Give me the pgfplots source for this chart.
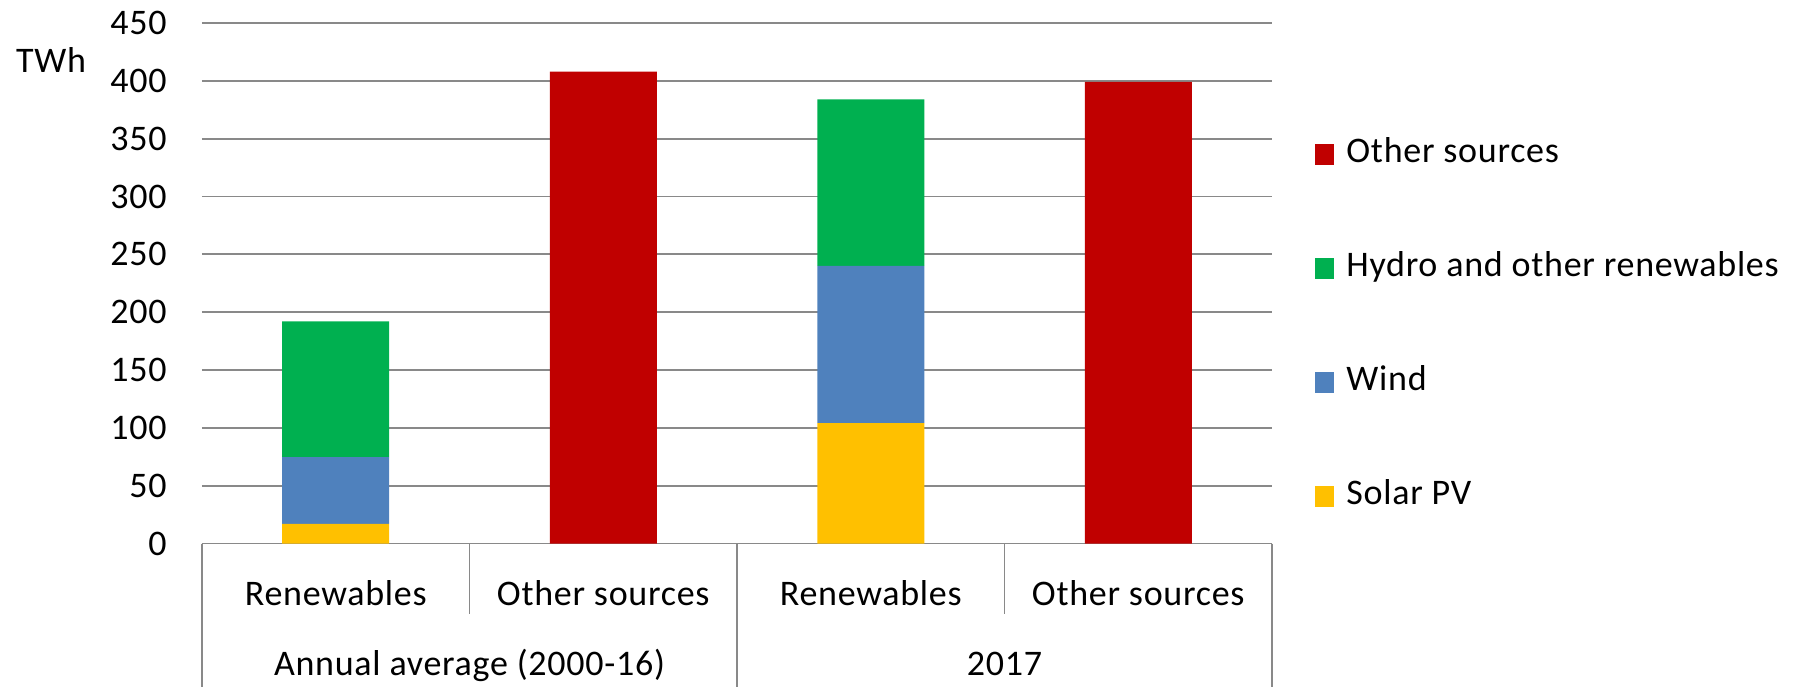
\documentclass[border=0pt]{standalone}
\usepackage{fontspec}
\setmainfont{Carlito}[LetterSpace=2]
\usepackage{pgfplots}
\usepackage{pgfplotstable}
\pgfplotsset{compat=1.18}

\definecolor{solar}{HTML}{FFC000}
\definecolor{wind}{HTML}{4F81BD}
\definecolor{hydro}{HTML}{00B050}
\definecolor{other}{HTML}{C00000}
\definecolor{gridgray}{HTML}{898989}

% Electricity generation, TWh
\pgfplotstableread{
x solar wind hydro other
0 17  57.6 117.4 0
1 0   0    0     408
2 104 136  144   0
3 0   0    0     399
}\gentable

\begin{document}
\begin{tikzpicture}[font=\fontsize{18}{21.6}\selectfont]
\path[use as bounding box] (0,0) rectangle (900pt,343pt);
\begin{axis}[
  at={(101pt,71.25pt)}, anchor=south west,
  scale only axis, width=535pt, height=260.25pt,
  xmin=-0.5, xmax=3.5, ymin=0, ymax=450,
  ybar stacked, bar width=0.4,
  xtick={0,1,2,3},
  xticklabels={Renewables,Other sources,Renewables,Other sources},
  ytick={0,50,...,450},
  ymajorgrids, grid style={gridgray, line width=0.9pt},
  axis line style={draw=none},
  major tick length=0pt, tick style={draw=none},
  /pgf/number format/assume math mode=true,
  yticklabel style={anchor=east, inner sep=0pt, xshift=-17.5pt},
  xticklabel style={anchor=base, inner sep=0pt, yshift=-30.75pt},
  clip=false,
  reverse legend,
  legend image code/.code={\fill[#1] (0pt,-5.25pt) rectangle (9.5pt,5.25pt);},
  legend style={at={(axis description cs:1.0402,0.419)}, anchor=west,
    draw=none, fill=none, inner sep=0pt, row sep=41pt, column sep=6pt,
    nodes={inner sep=0pt, text height=12pt, text depth=4pt},
    cells={anchor=west}},
]
\addplot[fill=solar, draw=none] table[x=x, y=solar] {\gentable};
\addlegendentry{Solar PV}
\addplot[fill=wind, draw=none] table[x=x, y=wind] {\gentable};
\addlegendentry{Wind}
\addplot[fill=hydro, draw=none] table[x=x, y=hydro] {\gentable};
\addlegendentry{Hydro and other renewables}
\addplot[fill=other, draw=none] table[x=x, y=other] {\gentable};
\addlegendentry{Other sources}

% category frame below the axis
\draw[gridgray, line width=0.9pt] (axis cs:-0.5,0) -- (axis cs:3.5,0);
\draw[gridgray, line width=0.9pt] (axis cs:-0.5,0) -- (axis cs:-0.5,-124);
\draw[gridgray, line width=0.9pt] (axis cs:1.5,0) -- (axis cs:1.5,-124);
\draw[gridgray, line width=0.9pt] (axis cs:3.5,0) -- (axis cs:3.5,-124);
\draw[gridgray, line width=0.9pt] (axis cs:0.5,0) -- (axis cs:0.5,-61);
\draw[gridgray, line width=0.9pt] (axis cs:2.5,0) -- (axis cs:2.5,-61);
\node[anchor=base] at (axis cs:0.5,-113.7) {Annual average (2000-16)};
\node[anchor=base] at (axis cs:2.5,-113.7) {2017};
\node at (axis description cs:-0.1411,0.9289) {TWh};
\end{axis}
\end{tikzpicture}
\end{document}
